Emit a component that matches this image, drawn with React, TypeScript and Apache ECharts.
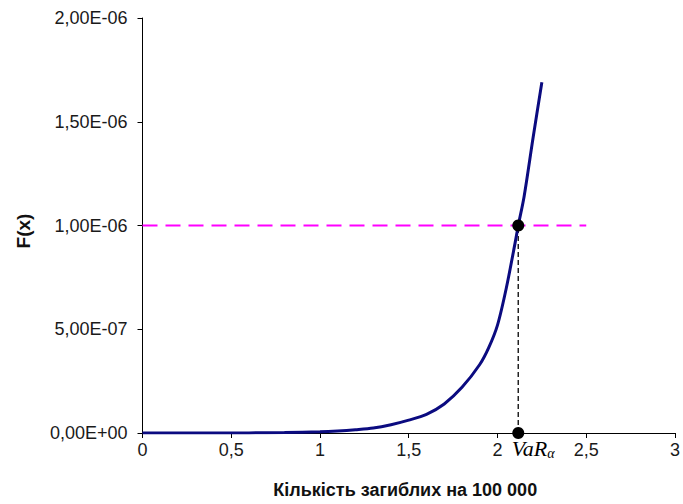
import React, { useEffect, useRef } from "react";
import * as echarts from "echarts";

const xValues = [0, 0.2, 0.4, 0.6, 0.8, 1.0, 1.1, 1.2, 1.3, 1.4, 1.5, 1.6, 1.7, 1.8, 1.9, 1.95, 2.0, 2.05, 2.1, 2.117, 2.15, 2.2, 2.25];
const yValuesMicro = [0, 0, 0, 0.0005, 0.002, 0.006, 0.01, 0.016, 0.024, 0.04, 0.062, 0.09, 0.14, 0.22, 0.33, 0.41, 0.52, 0.7, 0.92, 1.0, 1.14, 1.42, 1.69];
const varX = 2.117;
const levelY = 1e-6;
const levelLineX = [0, 2.5];
const xAxisName = "Кількість загиблих на 100 000";
const yAxisName = "F(x)";

function fmtY(v: number): string {
  if (v === 0) return "0,00E+00";
  const s = v.toExponential(2);
  const [m, e] = s.split("e");
  const exp = parseInt(e, 10);
  const sign = exp < 0 ? "-" : "+";
  const ab = Math.abs(exp);
  return m.replace(".", ",") + "E" + sign + (ab < 10 ? "0" + ab : String(ab));
}

export default function App() {
  const ref = useRef<HTMLDivElement>(null);
  useEffect(() => {
    if (!ref.current) return;
    const chart = echarts.init(ref.current, null, { renderer: "svg" });
    const curve = xValues.map((x, i) => [x, yValuesMicro[i] * 1e-6]);
    const sans = "'Liberation Sans', Arial, sans-serif";
    chart.setOption({
      animation: false,
      backgroundColor: "#fff",
      textStyle: { fontFamily: sans },
      grid: { left: 142.5, right: 3, top: 18, bottom: 69, containLabel: false },
      xAxis: {
        type: "value",
        min: 0,
        max: 3,
        interval: 0.5,
        name: xAxisName,
        nameLocation: "middle",
        nameGap: 48,
        nameTextStyle: { fontFamily: sans, fontSize: 18, fontWeight: "bold", color: "#111", padding: [0, 7, 0, 0] },
        axisLine: { lineStyle: { color: "#000", width: 1 } },
        axisTick: { show: true, inside: false, length: 5, lineStyle: { color: "#000" } },
        axisLabel: {
          fontFamily: sans,
          fontSize: 18,
          color: "#1a1a1a",
          margin: 8,
          formatter: (v: number) => String(v).replace(".", ","),
        },
        splitLine: { show: false },
      },
      yAxis: {
        type: "value",
        min: 0,
        max: 2e-6,
        interval: 5e-7,
        name: yAxisName,
        nameLocation: "middle",
        nameGap: 110,
        nameRotate: 90,
        nameTextStyle: { fontFamily: sans, fontSize: 19, fontWeight: "bold", color: "#111", padding: [0, 11, 0, 0] },
        axisLine: { show: true, lineStyle: { color: "#000", width: 1 } },
        axisTick: { show: true, inside: false, length: 5, lineStyle: { color: "#000" } },
        axisLabel: {
          fontFamily: sans,
          fontSize: 18,
          color: "#1a1a1a",
          margin: 15,
          formatter: fmtY,
        },
        splitLine: { show: false },
      },
      series: [
        {
          type: "line",
          data: [[levelLineX[0], levelY], [levelLineX[1], levelY]],
          symbol: "none",
          lineStyle: { color: "#ff00ff", width: 2, type: [15, 8] },
          z: 2,
        },
        {
          type: "line",
          data: [[varX, 0], [varX, levelY]],
          symbol: "none",
          lineStyle: { color: "#222", width: 1.5, type: [5, 3] },
          z: 2,
        },
        {
          type: "line",
          data: curve,
          smooth: 0.3,
          symbol: "none",
          lineStyle: { color: "#0b0b80", width: 3 },
          z: 3,
        },
        {
          type: "scatter",
          data: [[varX, levelY], [varX, 0]],
          symbolSize: 12,
          itemStyle: { color: "#000", opacity: 1 },
          z: 5,
        },
        {
          type: "scatter",
          data: [[varX, 0]],
          symbolSize: 0,
          silent: true,
          itemStyle: { opacity: 1 },
          label: {
            show: true,
            position: "bottom",
            distance: 4,
            offset: [15, 0],
            formatter: "{v|VaR}{s|α}",
            rich: {
              v: { fontFamily: "'Liberation Serif', 'DejaVu Serif', serif", fontStyle: "italic", fontSize: 22, color: "#000" },
              s: { fontFamily: "'Liberation Serif', 'DejaVu Serif', serif", fontStyle: "italic", fontSize: 14, color: "#000", padding: [9, 0, 0, 0] },
            },
          },
          z: 6,
        },
      ],
    });
    return () => chart.dispose();
  }, []);
  return <div ref={ref} style={{ position: "fixed", left: 0, top: 0, width: 683, height: 504, background: "#fff" }} />;
}
